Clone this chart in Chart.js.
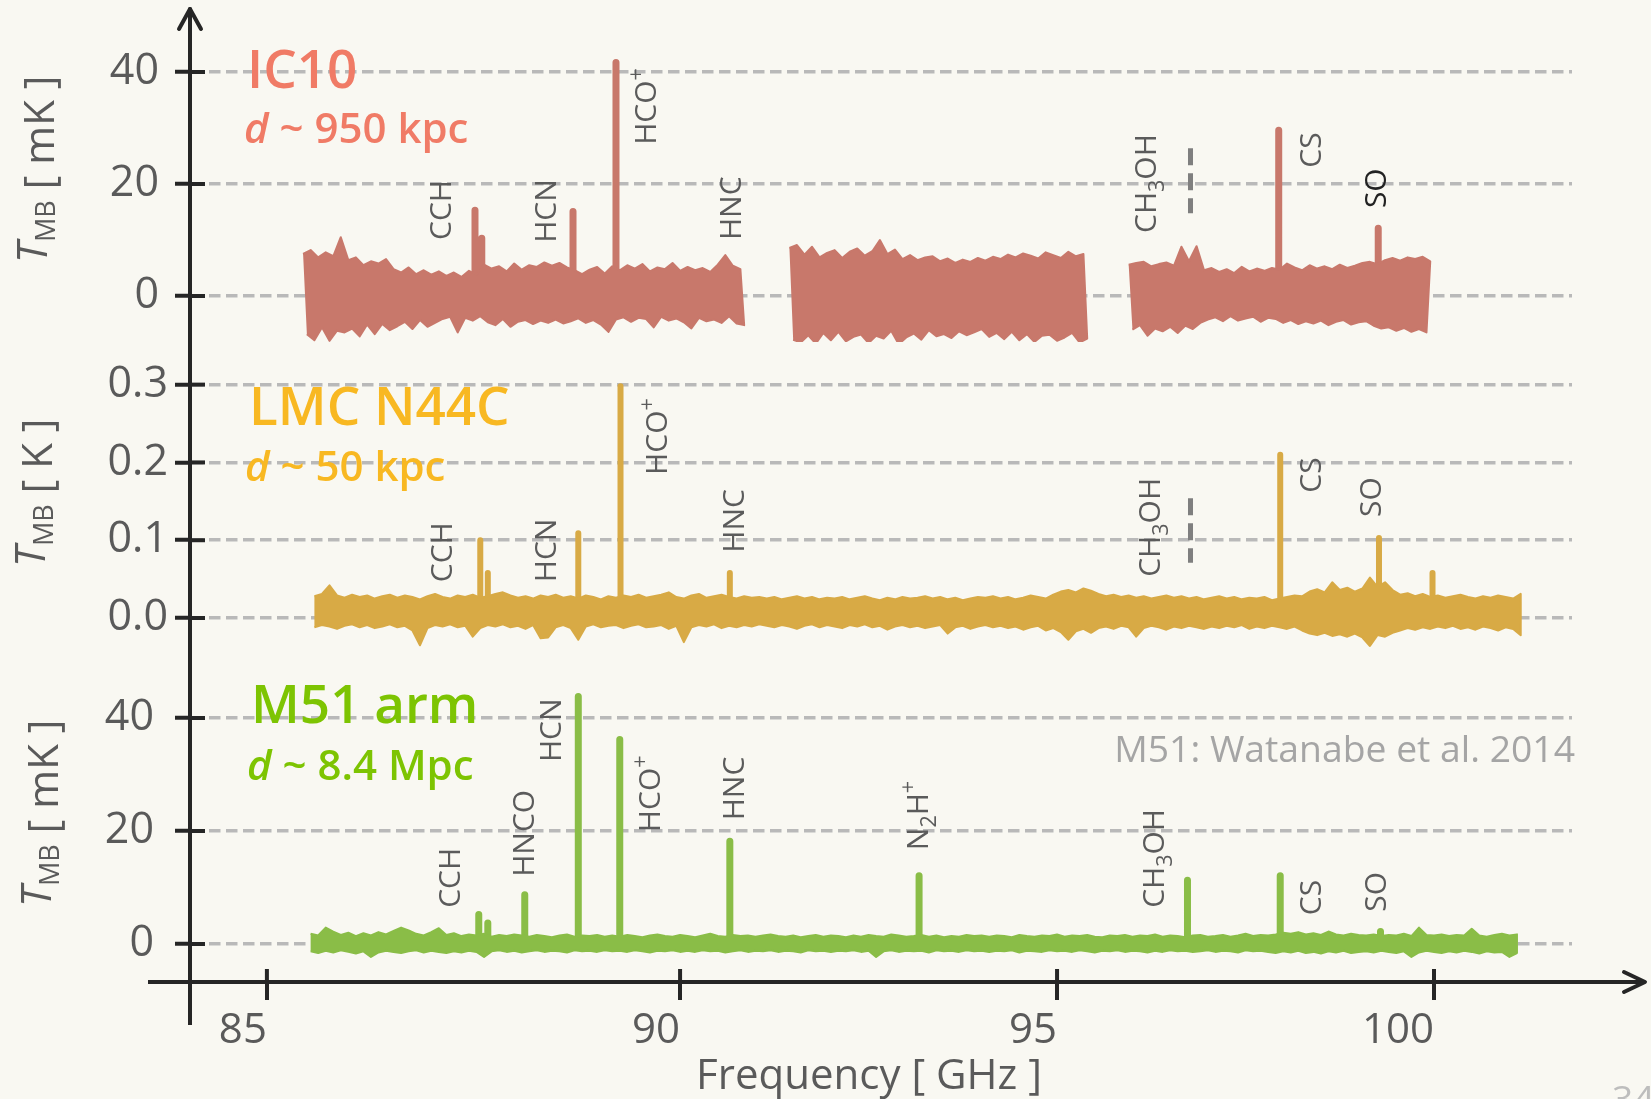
<!DOCTYPE html>
<html><head><meta charset="utf-8">
<script src="https://cdn.jsdelivr.net/npm/chart.js@4.4.1/dist/chart.umd.min.js"></script>
<style>
html,body{margin:0;padding:0;background:#f9f8f2;width:1651px;height:1099px;overflow:hidden}
canvas{position:absolute;left:0}
</style></head><body>
<canvas id="cA" width="1651" height="342" style="top:0px"></canvas>
<canvas id="cB" width="1651" height="308" style="top:342px"></canvas>
<canvas id="cC" width="1651" height="449" style="top:650px"></canvas>
<script>
// ---------------- data ----------------
const xTickVals = [84.52, 90, 95, 100];
const xTickLabels = ['85', '90', '95', '100'];

const ic10TickVals = [0, 20, 40];
const ic10TickLabels = ['0', '20', '40'];
const lmcTickVals = [0, 0.1, 0.2, 0.3];
const lmcTickLabels = ['0.0', '0.1', '0.2', '0.3'];
const m51TickVals = [0, 20, 40];
const m51TickLabels = ['0', '20', '40'];

// IC10 spectrum (mK): alternating channel maxima / minima, three observed segments
const ic10Step = 0.05;
const ic10SegStart = [85.00, 91.45, 95.95];
const ic10Seg1 = [
 7.5,-6.8,8.2,-7.9,6.9,-5.6,7.8,-8.0,7.1,-6.2,
 10.5,-6.5,6.4,-5.8,6.9,-7.2,5.5,-5.1,6.2,-6.8,
 5.8,-5.0,6.6,-6.1,4.8,-5.4,4.2,-4.6,5.1,-5.9,
 3.9,-4.3,4.6,-5.5,3.8,-4.8,4.4,-4.1,3.6,-3.7,
 4.2,-6.5,3.4,-3.9,4.5,-4.4,3.8,-3.6,5.6,-4.7,
 4.9,-5.2,5.3,-4.1,4.4,-5.5,5.8,-4.6,4.7,-4.3,
 5.5,-5.0,5.2,-4.4,6.0,-4.8,5.4,-4.2,5.9,-4.9,
 5.1,-4.5,4.6,-4.0,3.9,-4.8,4.7,-4.3,5.2,-5.1,
 4.0,-6.4,5.3,-4.2,4.6,-3.8,5.5,-4.6,4.9,-3.9,
 5.7,-4.1,4.4,-5.6,5.1,-3.7,4.8,-4.4,5.9,-4.0,
 4.5,-4.7,5.2,-5.8,4.6,-3.9,5.0,-4.5,4.3,-4.2,
 5.6,-4.8,7.3,-3.6,5.4,-4.9,4.8,-5.2];
const ic10Seg2 = [
 8.6,-7.8,9.1,-8.3,7.4,-7.0,8.8,-8.5,6.9,-6.6,
 7.7,-7.9,8.2,-6.4,6.8,-8.1,7.9,-7.3,8.5,-6.9,
 7.2,-8.4,8.0,-7.1,10.0,-7.6,7.5,-6.2,8.3,-8.6,
 6.6,-7.4,7.3,-6.7,6.4,-7.8,6.9,-6.1,7.1,-7.2,
 6.2,-6.8,6.7,-7.5,5.9,-6.3,6.5,-7.0,6.1,-6.5,
 6.8,-5.9,6.3,-7.3,7.0,-6.6,6.6,-7.7,7.4,-6.4,
 6.9,-7.9,7.6,-6.8,7.2,-8.2,6.7,-7.1,7.8,-6.9,
 7.3,-8.0,6.8,-7.4,7.9,-6.6,7.1,-8.3,7.5,-7.6];
const ic10Seg3 = [
 5.6,-6.0,5.9,-5.2,6.1,-7.1,5.3,-5.8,5.7,-6.3,
 6.0,-5.5,5.4,-6.6,8.8,-5.3,6.2,-5.9,8.9,-4.8,
 4.6,-4.2,5.0,-3.8,4.3,-4.5,4.8,-3.6,4.1,-4.4,
 5.2,-4.0,4.4,-3.7,4.9,-4.6,4.5,-3.9,5.0,-4.1,
 4.7,-4.8,5.8,-4.3,5.1,-5.0,4.6,-4.5,5.5,-4.9,
 4.9,-4.4,5.3,-5.2,4.8,-4.6,5.6,-4.3,5.0,-5.1,
 5.4,-4.7,5.9,-4.5,6.1,-5.3,5.7,-5.8,6.4,-5.6,
 6.8,-6.2,6.3,-5.7,6.9,-6.4,6.6,-5.9,7.0,-6.5,
 6.2];
const ic10PeakFreq = [87.28, 87.37, 88.58, 89.15, 97.94, 99.26];
const ic10PeakTop  = [15.3, 10.3, 15.1, 41.7, 29.6, 12.1];

// LMC N44C spectrum (K): upper / lower envelope of the noise per channel bin
const lmcStep = 0.1;
const lmcStart = 85.15;
const lmcUpper = [
 0.028,0.031,0.042,0.029,0.026,0.030,0.027,0.029,0.025,0.028,
 0.030,0.026,0.029,0.027,0.024,0.028,0.031,0.027,0.025,0.029,
 0.027,0.030,0.026,0.028,0.031,0.033,0.029,0.026,0.028,0.025,
 0.029,0.027,0.030,0.026,0.028,0.025,0.029,0.027,0.024,0.028,
 0.026,0.029,0.027,0.030,0.026,0.028,0.030,0.033,0.027,0.025,
 0.029,0.031,0.026,0.028,0.030,0.027,0.025,0.028,0.026,0.027,
 0.025,0.027,0.024,0.026,0.028,0.025,0.027,0.024,0.026,0.025,
 0.027,0.024,0.026,0.028,0.025,0.023,0.026,0.024,0.027,0.025,
 0.026,0.028,0.025,0.027,0.024,0.026,0.023,0.025,0.027,0.026,
 0.028,0.025,0.027,0.024,0.026,0.029,0.027,0.025,0.030,0.034,
 0.036,0.033,0.038,0.035,0.031,0.028,0.030,0.027,0.029,0.026,
 0.028,0.025,0.027,0.029,0.026,0.028,0.025,0.027,0.024,0.026,
 0.028,0.025,0.027,0.024,0.026,0.025,0.027,0.023,0.025,0.027,
 0.029,0.028,0.034,0.037,0.033,0.046,0.036,0.039,0.034,0.038,
 0.052,0.040,0.046,0.036,0.030,0.032,0.028,0.031,0.027,0.029,
 0.026,0.028,0.030,0.027,0.025,0.028,0.026,0.029,0.027,0.025,0.031];
const lmcLower = [
 -0.012,-0.009,-0.011,-0.014,-0.010,-0.008,-0.012,-0.009,-0.013,-0.011,
 -0.008,-0.012,-0.010,-0.016,-0.035,-0.013,-0.009,-0.011,-0.008,-0.012,
 -0.010,-0.024,-0.013,-0.009,-0.011,-0.008,-0.012,-0.010,-0.014,-0.009,
 -0.026,-0.025,-0.012,-0.009,-0.013,-0.028,-0.011,-0.008,-0.012,-0.010,
 -0.009,-0.013,-0.010,-0.008,-0.012,-0.011,-0.009,-0.014,-0.010,-0.031,
 -0.012,-0.009,-0.011,-0.008,-0.013,-0.010,-0.012,-0.009,-0.011,-0.008,
 -0.010,-0.012,-0.009,-0.011,-0.014,-0.010,-0.008,-0.012,-0.009,-0.011,
 -0.013,-0.009,-0.011,-0.008,-0.012,-0.010,-0.015,-0.011,-0.009,-0.012,
 -0.010,-0.013,-0.011,-0.009,-0.020,-0.012,-0.010,-0.014,-0.011,-0.009,
 -0.012,-0.010,-0.013,-0.011,-0.015,-0.012,-0.010,-0.016,-0.013,-0.018,
 -0.028,-0.017,-0.014,-0.019,-0.013,-0.011,-0.014,-0.010,-0.012,-0.024,
 -0.013,-0.010,-0.012,-0.015,-0.011,-0.013,-0.010,-0.012,-0.014,-0.011,
 -0.013,-0.010,-0.012,-0.009,-0.014,-0.011,-0.013,-0.010,-0.012,-0.014,
 -0.011,-0.016,-0.020,-0.022,-0.019,-0.023,-0.021,-0.024,-0.020,-0.025,
 -0.036,-0.022,-0.024,-0.019,-0.016,-0.013,-0.015,-0.012,-0.014,-0.011,
 -0.013,-0.010,-0.014,-0.012,-0.015,-0.011,-0.013,-0.016,-0.012,-0.014,-0.022];
const lmcPeakFreq = [87.35, 87.45, 88.65, 89.21, 90.66, 97.96, 99.27, 99.98];
const lmcPeakTop  = [0.100, 0.058, 0.109, 0.298, 0.058, 0.210, 0.103, 0.058];

// M51 arm spectrum (mK): upper / lower envelope of the noise per channel bin
const m51Step = 0.1;
const m51Start = 85.10;
const m51Upper = [
 1.8,1.5,2.9,2.2,1.6,2.0,1.4,1.9,1.5,2.1,
 1.7,2.3,2.9,2.4,1.8,1.5,2.1,2.8,1.6,1.9,
 1.4,1.7,1.5,1.8,1.3,1.6,1.4,1.7,1.5,1.3,
 1.6,1.4,1.2,1.5,1.7,1.3,1.5,1.4,1.6,1.3,
 1.5,1.3,1.6,1.4,1.2,1.5,1.7,1.4,1.3,1.6,
 1.4,1.2,1.5,1.8,1.4,1.3,1.6,1.4,1.5,1.3,
 1.5,1.7,1.4,1.3,1.5,1.2,1.4,1.6,1.3,1.5,
 1.4,1.2,1.5,1.3,1.6,1.4,1.3,1.7,1.5,1.3,
 1.4,1.6,1.3,1.5,1.2,1.4,1.3,1.6,1.4,1.5,
 1.3,1.5,1.4,1.2,1.6,1.4,1.3,1.5,1.4,1.7,
 1.3,1.5,1.4,1.6,1.3,1.2,1.5,1.4,1.6,1.3,
 1.5,1.4,1.7,1.3,1.5,1.4,1.2,1.5,1.6,1.3,
 1.4,1.6,1.3,1.5,1.8,1.4,1.6,1.5,1.7,2.0,
 1.8,2.1,1.7,1.9,1.6,2.2,1.7,1.5,1.8,1.6,
 1.5,1.7,1.4,1.6,1.5,1.8,1.4,2.9,1.6,1.5,
 1.7,1.4,1.6,1.5,2.7,1.5,1.3,1.6,1.8,1.5,1.7];
const m51Lower = [
 -1.3,-1.6,-1.2,-1.5,-1.1,-1.4,-1.7,-1.3,-2.3,-1.5,
 -1.2,-1.4,-1.6,-1.3,-1.1,-1.5,-1.2,-1.4,-1.6,-1.3,
 -1.5,-1.2,-1.4,-2.3,-1.3,-1.1,-1.4,-1.2,-1.5,-1.3,
 -1.1,-1.4,-1.2,-1.3,-1.5,-1.1,-1.3,-1.2,-1.4,-1.1,
 -1.3,-1.2,-1.4,-1.1,-1.3,-1.5,-1.2,-1.3,-1.1,-1.4,
 -1.2,-1.4,-1.1,-1.3,-1.2,-1.5,-1.3,-1.1,-1.4,-1.2,
 -1.3,-1.1,-1.4,-1.2,-1.3,-1.5,-1.1,-1.3,-1.2,-1.4,
 -1.2,-1.3,-1.1,-1.4,-1.2,-2.3,-1.3,-1.1,-1.4,-1.2,
 -1.3,-1.2,-1.5,-1.1,-1.3,-1.2,-1.4,-1.1,-1.3,-1.2,
 -1.4,-1.2,-1.3,-1.1,-1.5,-1.2,-1.3,-1.4,-1.1,-1.3,
 -1.2,-1.4,-1.1,-1.3,-1.5,-1.2,-1.3,-1.1,-1.4,-1.2,
 -1.3,-1.5,-1.2,-1.4,-1.1,-1.3,-1.2,-1.4,-1.3,-1.1,
 -1.4,-1.2,-1.3,-1.5,-1.1,-1.3,-1.2,-1.4,-1.6,-1.3,
 -1.5,-1.2,-1.6,-1.4,-1.7,-1.3,-1.5,-1.2,-1.6,-1.4,
 -1.3,-1.5,-1.2,-1.4,-1.6,-1.3,-2.3,-1.5,-1.2,-1.4,
 -1.6,-1.3,-1.5,-1.2,-1.4,-1.7,-1.3,-1.5,-1.4,-2.3,-1.6];
const m51PeakFreq = [87.33, 87.45, 87.94, 88.65, 89.20, 90.66, 93.17, 96.73, 97.96, 99.29];
const m51PeakTop  = [5.2, 3.7, 8.7, 43.8, 36.2, 18.2, 12.1, 11.3, 12.1, 2.2];

// line identifications: text, frequency, height (axis units) where the label starts
const ic10Labels = [
 ['CCH', 86.82, 10.0], ['HCN', 88.21, 9.5], ['HCO^+', 89.54, 27.0], ['HNC', 90.66, 10.0],
 ['CH_3OH', 96.17, 11.25], ['CS', 98.36, 22.9], ['SO', 99.22, 15.7]];
const lmcLabels = [
 ['CCH', 86.83, 0.046], ['HCN', 88.21, 0.046], ['HCO^+', 89.68, 0.184], ['HNC', 90.70, 0.084],
 ['CH_3OH', 96.22, 0.053], ['CS', 98.36, 0.161], ['SO', 99.15, 0.130]];
const m51Labels = [
 ['CCH', 86.94, 6.4], ['HNCO', 87.92, 11.9], ['HCN', 88.28, 32.2], ['HCO^+', 89.59, 19.8],
 ['HNC', 90.70, 21.9], ['N_2H^+', 93.14, 16.6], ['CH_3OH', 96.27, 6.4], ['CS', 98.36, 5.1], ['SO', 99.22, 5.7]];
const ic10Marker = [96.77, 14.8, 26.4];
const lmcMarker = [96.77, 0.071, 0.154];

// ---------------- styling ----------------
const FONT = '"Open Sans", "Noto Sans", "DejaVu Sans", sans-serif';
const AXIS = '#262626';
const GRID = '#b9b9b9';
const TXT = '#5a5a5a';

function pts(start, step, vals) {
  return vals.map((v, i) => ({x: +(start + i * step).toFixed(3), y: v}));
}
// closed band: upper edge forward, lower edge backward
function band(upperPts, lowerPts) {
  return upperPts.concat(lowerPts.slice().reverse());
}
// split alternating max/min channel list into a band
function altBand(start, step, vals) {
  const p = pts(start, step, vals);
  return band(p.filter((_, i) => i % 2 === 0), p.filter((_, i) => i % 2 === 1));
}
function spikes(freqs, tops) {
  const out = [];
  freqs.forEach((f, i) => { out.push({x: f, y: 0}, {x: f, y: tops[i]}, {x: f, y: null}); });
  return out;
}
function bandDs(data, color) {
  return {data, borderColor: color, backgroundColor: color, borderWidth: 2, pointRadius: 0, showLine: true,
    fill: 'shape', borderJoinStyle: 'round', tension: 0};
}
function spikeDs(data, color, w) {
  return {data, borderColor: color, borderWidth: w, pointRadius: 0, showLine: true, spanGaps: false, fill: false,
    borderJoinStyle: 'round', borderCapStyle: 'round', tension: 0};
}

function yScale(min, max, vals, labels, pad) {
  return {
    type: 'linear', position: 'left', min, max,
    afterBuildTicks: s => { s.ticks = vals.map(v => ({value: v})); },
    afterFit: s => { s.width = 190; s.paddingTop = 0; s.paddingBottom = 0; },
    ticks: {callback: (v, i) => labels[i], font: {family: FONT, size: 43}, color: TXT, padding: pad, autoSkip: false},
    grid: {color: GRID, lineWidth: 3.5, tickColor: AXIS, tickWidth: 4, tickLength: 15, tickBorderDash: [], drawOnChartArea: true},
    border: {display: true, color: AXIS, width: 4, dash: [11.5, 5.5]},
    title: {display: false}
  };
}
function xScale(show) {
  return {
    type: 'linear', position: 'bottom', min: 83.5, max: 101.83, display: show,
    afterBuildTicks: s => { s.ticks = xTickVals.map(v => ({value: v})); },
    afterFit: s => { if (show) s.height = 117; s.paddingLeft = 0; s.paddingRight = 0; },
    ticks: {callback: (v, i) => xTickLabels[i], font: {family: FONT, size: 42}, color: TXT, padding: 6,
      align: 'end', autoSkip: false, maxRotation: 0, minRotation: 0},
    grid: {drawOnChartArea: false, drawTicks: true, tickLength: 18, tickColor: AXIS, tickWidth: 4, color: AXIS, lineWidth: 4},
    border: {display: true, color: AXIS, width: 4}
  };
}

// ---------------- drawing helpers ----------------
function parseRich(s) {
  const parts = []; let buf = '';
  for (let i = 0; i < s.length; i++) {
    const c = s[i];
    if ((c === '_' || c === '^') && i + 1 < s.length) {
      if (buf) { parts.push({t: buf, k: 0}); buf = ''; }
      parts.push({t: s[i + 1], k: c === '_' ? 1 : 2}); i++;
    } else buf += c;
  }
  if (buf) parts.push({t: buf, k: 0});
  return parts;
}
function drawLineLabel(ctx, text, cx, startY, color) {
  const size = 30;
  ctx.save();
  ctx.translate(cx + size * 0.357, startY);
  ctx.rotate(-Math.PI / 2);
  ctx.fillStyle = color; ctx.textAlign = 'left'; ctx.textBaseline = 'alphabetic';
  let x = 0;
  for (const p of parseRich(text)) {
    const s = p.k ? size * 0.72 : size;
    ctx.font = `400 ${s}px ${FONT}`;
    const dy = p.k === 1 ? size * 0.27 : p.k === 2 ? -size * 0.42 : 0;
    ctx.fillText(p.t, x, dy);
    x += ctx.measureText(p.t).width;
  }
  ctx.restore();
}
function drawYTitle(ctx, baseX, startY, unit) {
  ctx.save();
  ctx.translate(baseX, startY);
  ctx.rotate(-Math.PI / 2);
  ctx.fillStyle = TXT; ctx.textAlign = 'left'; ctx.textBaseline = 'alphabetic';
  let x = 0;
  ctx.font = `italic 400 42px ${FONT}`;
  ctx.fillText('T', x, -7); x += ctx.measureText('T').width;
  ctx.font = `400 27px ${FONT}`;
  ctx.fillText('MB', x, 1); x += ctx.measureText('MB').width;
  ctx.font = `400 42px ${FONT}`;
  ctx.fillText(' [ ' + unit + ' ]', x, 0);
  ctx.restore();
}
function drawName(ctx, p) {
  ctx.save();
  ctx.fillStyle = p.color; ctx.textAlign = 'left'; ctx.textBaseline = 'alphabetic';
  ctx.font = `600 53px ${FONT}`;
  ctx.fillText(p.name, p.x1, p.y1);
  ctx.font = `italic 600 42px ${FONT}`;
  ctx.fillText('d', p.x2, p.y2);
  const w = ctx.measureText('d').width;
  ctx.font = `600 42px ${FONT}`;
  ctx.fillText(' ~ ' + p.dist, p.x2 + w, p.y2);
  ctx.restore();
}
function drawMarker(ctx, chart, m) {
  const x = chart.scales.x.getPixelForValue(m[0]);
  const y1 = chart.scales.y.getPixelForValue(m[1]);
  const y2 = chart.scales.y.getPixelForValue(m[2]);
  ctx.save();
  ctx.strokeStyle = '#7f7f7f'; ctx.lineWidth = 5; ctx.setLineDash([17, 8]);
  ctx.beginPath(); ctx.moveTo(x, y2); ctx.lineTo(x, y1); ctx.stroke();
  ctx.restore();
}
function innerTicks(ctx, chart) {
  const ys = chart.scales.y;
  ctx.save();
  ctx.strokeStyle = AXIS; ctx.lineWidth = 4;
  ys.ticks.forEach(t => {
    const y = ys.getPixelForValue(t.value);
    ctx.beginPath(); ctx.moveTo(190, y); ctx.lineTo(205, y); ctx.stroke();
  });
  ctx.restore();
}

function panelPlugin(cfg) {
  return {
    id: 'panel',
    afterDraw(chart) {
      const ctx = chart.ctx;
      innerTicks(ctx, chart);
      const xs = chart.scales.x, ys = chart.scales.y;
      cfg.labels.forEach(l => {
        const col = (cfg.darkSO && l[0] === 'SO') ? '#222222' : '#5b5b5b';
        drawLineLabel(ctx, l[0], xs.getPixelForValue(l[1]), ys.getPixelForValue(l[2]), col);
      });
      if (cfg.marker) drawMarker(ctx, chart, cfg.marker);
      drawName(ctx, cfg.name);
      drawYTitle(ctx, cfg.yTitle[0], cfg.yTitle[1], cfg.yTitle[2]);
      if (cfg.extra) cfg.extra(ctx, chart);
    }
  };
}

function makeChart(id, datasets, yOpts, showX, padTop, cfg) {
  return new Chart(document.getElementById(id), {
    type: 'scatter',
    data: {datasets},
    options: {
      responsive: false, maintainAspectRatio: false, animation: false, events: [],
      devicePixelRatio: 1,
      layout: {padding: {top: padTop, right: 79, left: 0, bottom: 0}},
      plugins: {legend: {display: false}, tooltip: {enabled: false}},
      scales: {x: xScale(showX), y: yOpts}
    },
    plugins: [panelPlugin(cfg)]
  });
}

// ---------------- panel A: IC10 ----------------
const IC10C = '#c8786b';
makeChart('cA', [
  bandDs(altBand(ic10SegStart[0], ic10Step, ic10Seg1), IC10C),
  bandDs(altBand(ic10SegStart[1], ic10Step, ic10Seg2), IC10C),
  bandDs(altBand(ic10SegStart[2], ic10Step, ic10Seg3), IC10C),
  spikeDs(spikes(ic10PeakFreq, ic10PeakTop), IC10C, 7)
], yScale(-8.21, 50.71, ic10TickVals, ic10TickLabels, 16), false, 12, {
  labels: ic10Labels, darkSO: true, marker: ic10Marker,
  name: {name: 'IC10', x1: 247, y1: 88, dist: '950 kpc', x2: 244, y2: 143, color: '#f07b66'},
  yTitle: [54, 263, 'mK'],
  extra(ctx) {
    ctx.save(); ctx.strokeStyle = AXIS; ctx.lineWidth = 4; ctx.lineCap = 'round'; ctx.lineJoin = 'round';
    ctx.beginPath(); ctx.moveTo(190, 14); ctx.lineTo(190, 9); ctx.stroke();
    ctx.beginPath(); ctx.moveTo(179, 29); ctx.lineTo(190, 9); ctx.lineTo(201, 29); ctx.stroke();
    ctx.restore();
  }
});

// ---------------- panel B: LMC N44C ----------------
const LMCC = '#d8aa45';
makeChart('cB', [
  bandDs(band(pts(lmcStart, lmcStep, lmcUpper), pts(lmcStart, lmcStep, lmcLower)), LMCC),
  spikeDs(spikes(lmcPeakFreq, lmcPeakTop), LMCC, 6)
], yScale(-0.0411, 0.3548, lmcTickVals, lmcTickLabels, 7), false, 0, {
  labels: lmcLabels, marker: lmcMarker,
  name: {name: 'LMC N44C', x1: 249, y1: 83, dist: '50 kpc', x2: 245, y2: 139, color: '#f8b822'},
  yTitle: [52, 225, 'K']
});

// ---------------- panel C: M51 arm ----------------
const M51C = '#8abd47';
makeChart('cC', [
  bandDs(band(pts(m51Start, m51Step, m51Upper), pts(m51Start, m51Step, m51Lower)), M51C),
  spikeDs(spikes(m51PeakFreq, m51PeakTop), M51C, 7)
], yScale(-6.73, 52.04, m51TickVals, m51TickLabels, 21), true, 0, {
  labels: m51Labels,
  name: {name: 'M51 arm', x1: 251, y1: 73, dist: '8.4 Mpc', x2: 247, y2: 130, color: '#7dc402'},
  yTitle: [58, 257, 'mK'],
  extra(ctx, chart) {
    const xs = chart.scales.x;
    const axY = chart.chartArea.bottom;
    ctx.save();
    ctx.strokeStyle = AXIS; ctx.lineWidth = 4;
    ctx.beginPath(); ctx.moveTo(148, axY); ctx.lineTo(190, axY); ctx.stroke();
    ctx.beginPath(); ctx.moveTo(1570, axY); ctx.lineTo(1645, axY); ctx.stroke();
    ctx.beginPath(); ctx.moveTo(190, axY); ctx.lineTo(190, 375); ctx.stroke();
    ctx.lineCap = 'round'; ctx.lineJoin = 'round';
    ctx.beginPath(); ctx.moveTo(1624, axY - 10); ctx.lineTo(1645, axY); ctx.lineTo(1624, axY + 10); ctx.stroke();
    ctx.lineCap = 'butt';
    xTickVals.forEach(v => {
      const x = xs.getPixelForValue(v);
      ctx.beginPath(); ctx.moveTo(x, axY - 13); ctx.lineTo(x, axY); ctx.stroke();
    });
    ctx.fillStyle = TXT; ctx.textAlign = 'center'; ctx.textBaseline = 'alphabetic';
    ctx.font = `400 42px ${FONT}`;
    ctx.fillText('Frequency [ GHz ]', 869, 439);
    ctx.fillStyle = '#a5a5a5'; ctx.textAlign = 'right';
    ctx.font = `400 37.3px ${FONT}`;
    ctx.fillText('M51: Watanabe et al. 2014', 1575, 112);
    ctx.fillStyle = '#bdbdbd'; ctx.textAlign = 'left';
    ctx.fillText('34', 1612, 462);
    ctx.restore();
  }
});
</script></body></html>
